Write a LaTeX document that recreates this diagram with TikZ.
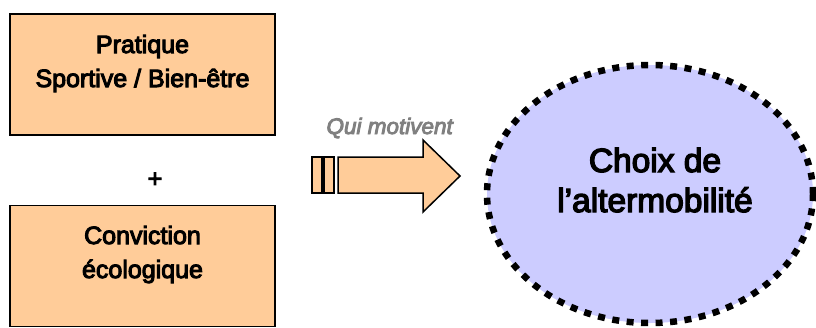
\documentclass[tikz,border=0pt]{standalone}
\usepackage{fontspec}
\setmainfont{Liberation Sans}
\newfontfamily\heavyfont[FakeBold=4]{Liberation Sans}
\usetikzlibrary{shapes.geometric}
\definecolor{peach}{HTML}{FFCC99}
\definecolor{lavender}{HTML}{CCCCFF}
\definecolor{motgray}{HTML}{808080}
\begin{document}
\begin{tikzpicture}[x=1pt,y=-1pt,
  box/.style={draw=black, line width=1.5pt, fill=peach, minimum width=265pt, minimum height=121pt, inner sep=0pt},
  boxtext/.style={font=\heavyfont\fontsize{25}{34}\selectfont, align=center, inner sep=0pt},
  circtext/.style={font=\heavyfont\fontsize{33.5}{40}\selectfont, align=center, inner sep=0pt},
  blob/.style={ellipse, draw=black, line width=6.5pt, dash pattern=on 7pt off 7.5pt, fill=lavender, minimum width=326pt, minimum height=258pt, inner sep=0pt},
  arrowshape/.style={draw=black, line width=1.5pt, fill=peach, line join=miter}
]
\useasboundingbox (0,0) rectangle (816,327);
% boxes
\node[box] (b1) at (142.5,74.5) {};
\node[box] (b2) at (142.5,266) {};
\node[boxtext, anchor=base] (t1) at (142.5,87) {Pratique\\Sportive / Bien-être};
\node[boxtext, anchor=base] (t2) at (142.5,278) {Conviction\\écologique};
% plus
\begin{scope}
\clip (140,172) rectangle (170,190);
\node[boxtext, anchor=base] (plus) at (155,187) {+};
\end{scope}
% ellipse
\node[blob] (c) at (650,194) {};
\node[circtext, anchor=base] (ct) at (655,212) {Choix de\\l’altermobilité};
% arrow
\draw[arrowshape] (312,157) rectangle (322,193);
\draw[arrowshape] (324,157) rectangle (334,193);
\draw[arrowshape] (338,157) -- (423,157) -- (423,140) -- (460,176) -- (423,212) -- (423,193) -- (338,193) -- cycle;
\node[font=\heavyfont\itshape\fontsize{22.5}{26}\selectfont, text=motgray, anchor=base east, inner sep=0pt] (q) at (453,134) {Qui motivent};
\end{tikzpicture}
\end{document}
